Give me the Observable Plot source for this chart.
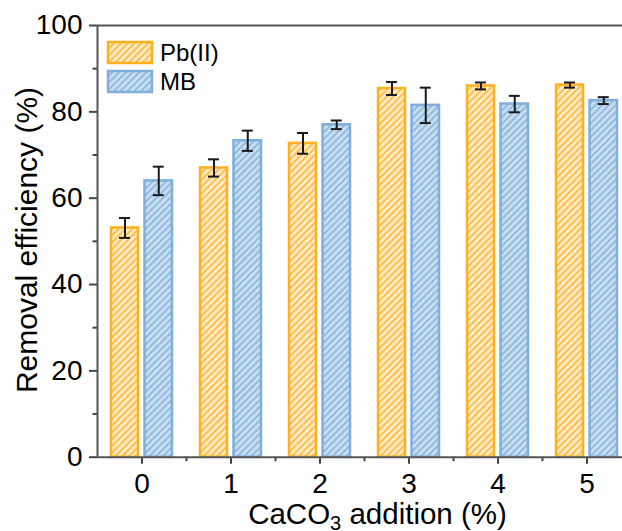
<!DOCTYPE html>
<html>
<head>
<meta charset="utf-8">
<script src="https://cdn.jsdelivr.net/npm/d3@7"></script>
<script src="https://cdn.jsdelivr.net/npm/@observablehq/plot@0.6"></script>
<style>
  html, body { margin: 0; padding: 0; background: #fff; }
  #chart svg { display: block; }
</style>
</head>
<body>
<div id="chart"></div>
<script>
// ---- data ----
const categories = [0, 1, 2, 3, 4, 5];
const categoryBoundaries = [0.5, 1.5, 2.5, 3.5, 4.5];
const seriesNames = ["Pb(II)", "MB"];
const pbValues = [53.1, 67.0, 72.7, 85.4, 86.0, 86.2];
const pbErrors = [2.3, 2.0, 2.4, 1.5, 0.8, 0.6];
const mbValues = [64.0, 73.3, 77.0, 81.5, 81.8, 82.6];
const mbErrors = [3.3, 2.35, 1.0, 4.1, 1.9, 0.8];
const yTicks = [0, 20, 40, 60, 80, 100];
const yMinorTicks = [10, 30, 50, 70, 90];
const xTitle = ["CaCO", "3", " addition (%)"];
const yTitle = "Removal efficiency (%)";

// ---- styles ----
const styles = [
  {id: "hatchPb", stroke: "#FFB01E", fill: "#FFEBC4", stripe: "#FFBA45", insetLeft: 14, insetRight: 48, dx: -17},
  {id: "hatchMB", stroke: "#7FAFDA", fill: "#C9DDF0", stripe: "#8DB8DF", insetLeft: 47.5, insetRight: 14, dx: 16.75}
];
const seriesData = [[pbValues, pbErrors], [mbValues, mbErrors]].map(([vals, errs]) =>
  categories.map((c, i) => ({cat: c, value: vals[i], lo: vals[i] - errs[i], hi: vals[i] + errs[i]}))
);

const W = 622, H = 531;
const marks = [];
seriesData.forEach((rows, s) => {
  const st = styles[s];
  marks.push(Plot.rectY(rows, {
    x1: d => d.cat - 0.5, x2: d => d.cat + 0.5, y1: 0, y2: "value",
    insetLeft: st.insetLeft, insetRight: st.insetRight,
    fill: `url(#${st.id})`, stroke: st.stroke, strokeWidth: 2.5
  }));
});
seriesData.forEach((rows, s) => {
  const st = styles[s];
  marks.push(Plot.ruleX(rows, {x: "cat", y1: "lo", y2: "hi", dx: st.dx, stroke: "#1a1a1a", strokeWidth: 2}));
  marks.push(Plot.ruleY(rows, {y: "hi", x1: "cat", x2: "cat", dx: st.dx, insetLeft: -5.5, insetRight: -5.5, stroke: "#1a1a1a", strokeWidth: 2}));
  marks.push(Plot.ruleY(rows, {y: "lo", x1: "cat", x2: "cat", dx: st.dx, insetLeft: -5.5, insetRight: -5.5, stroke: "#1a1a1a", strokeWidth: 2}));
});
// axes
marks.push(
  Plot.axisY({ticks: yTicks, tickSize: 8, tickFormat: () => "", label: null, stroke: "#444", strokeWidth: 2}),
  Plot.axisY({ticks: yMinorTicks, tickSize: 4.5, tickFormat: () => "", label: null, stroke: "#444", strokeWidth: 2}),
  Plot.text(yTicks, {y: d => d, text: d => String(d), frameAnchor: "left", dx: -15, textAnchor: "end", lineAnchor: "middle", fontSize: 28, fill: "#000"}),
  Plot.axisX({ticks: categories, tickSize: 7, tickPadding: 8.5, fontSize: 28, label: null, stroke: "#444", strokeWidth: 2, fill: "#000", tickFormat: d => String(d)}),
  Plot.axisX({ticks: categoryBoundaries, tickSize: 4.5, tickFormat: () => "", label: null, stroke: "#444", strokeWidth: 2}),
  Plot.ruleY([0, 100], {stroke: "#555", strokeWidth: 2}),
  Plot.ruleX([-0.5], {stroke: "#555", strokeWidth: 2})
);

const svg = Plot.plot({
  width: W, height: H,
  marginLeft: 97, marginRight: 0, marginTop: 25, marginBottom: H - 456.7,
  style: {fontFamily: "Arial, 'Liberation Sans', sans-serif", background: "#fff", overflow: "visible"},
  x: {type: "linear", domain: [-0.5, 5.5], range: [97, 631]},
  y: {domain: [0, 100]},
  marks
});

// hatch patterns
const sel = d3.select(svg);
const defs = sel.insert("defs", ":first-child");
styles.forEach(st => {
  const p = defs.append("pattern").attr("id", st.id)
    .attr("patternUnits", "userSpaceOnUse").attr("width", 4.8).attr("height", 4.8)
    .attr("patternTransform", "rotate(45)");
  p.append("rect").attr("width", 4.8).attr("height", 4.8).attr("fill", st.fill);
  p.append("line").attr("x1", 0.9).attr("x2", 0.9).attr("y1", 0).attr("y2", 4.8)
    .attr("stroke", st.stripe).attr("stroke-width", 1.8);
});

// legend
const lg = sel.append("g").attr("class", "legend").attr("text-anchor", "start");
seriesNames.forEach((name, i) => {
  const st = styles[i];
  const y0 = 42 + i * 29;
  lg.append("rect").attr("x", 108).attr("y", y0).attr("width", 44).attr("height", 21)
    .attr("fill", `url(#${st.id})`).attr("stroke", st.stroke).attr("stroke-width", 2.5);
  lg.append("text").attr("x", 160).attr("y", y0 + 10.5).attr("dy", "0.36em")
    .attr("font-size", 24).attr("fill", "#000").text(name);
});

// y title
sel.append("text").attr("transform", "translate(37,240) rotate(-90)").attr("text-anchor", "middle")
  .attr("font-size", 30).attr("fill", "#000").text(yTitle);

// x title with subscript
const t = sel.append("text").attr("x", 377.5).attr("y", 524).attr("text-anchor", "middle")
  .attr("font-size", 29.5).attr("fill", "#000");
t.append("tspan").text(xTitle[0]);
t.append("tspan").attr("font-size", 20).attr("dy", 6).text(xTitle[1]);
t.append("tspan").attr("dy", -6).text(xTitle[2]);

document.getElementById("chart").appendChild(svg);
</script>
</body>
</html>
